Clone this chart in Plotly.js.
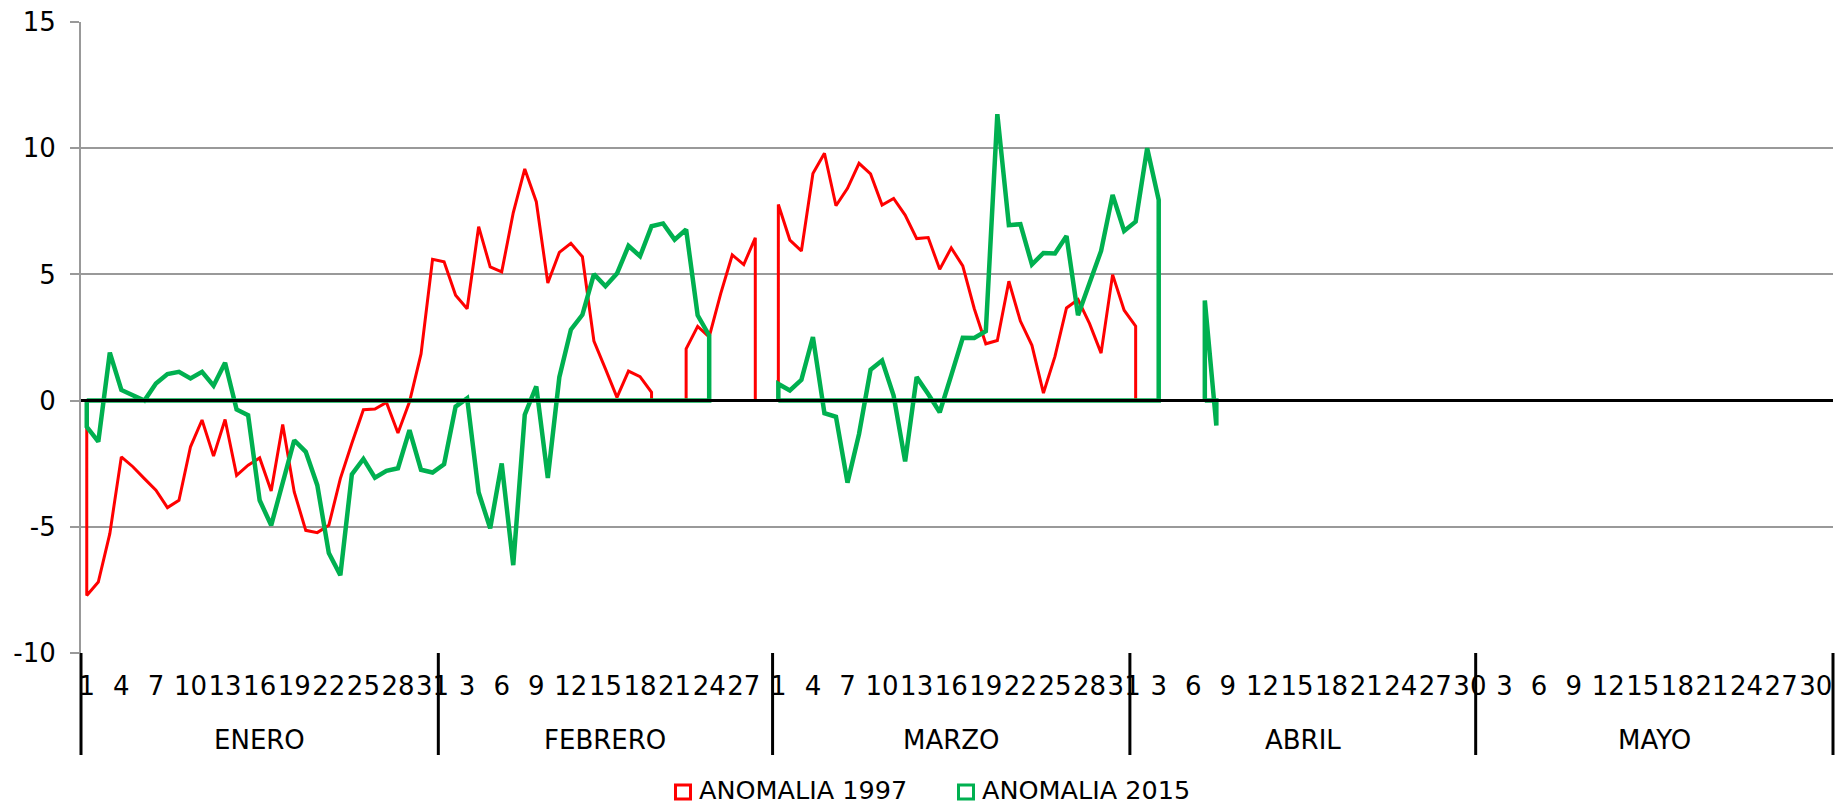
<!DOCTYPE html>
<html>
<head>
<meta charset="utf-8">
<script src="https://cdn.plot.ly/plotly-3.0.1.min.js"></script>
<style>
  html, body { margin: 0; padding: 0; background: #ffffff; }
  #chart { width: 1836px; height: 806px; }
</style>
</head>
<body>
<div id="chart"></div>
<script>
// ---- categories ----
const months = ['ENERO', 'FEBRERO', 'MARZO', 'ABRIL', 'MAYO'];
const monthDays = [31, 29, 31, 30, 31];
const labelStep = 3;
const yTicks = [-10, -5, 0, 5, 10, 15];
const seriesNames = ['ANOMALIA 1997', 'ANOMALIA 2015'];

// ---- ANOMALIA 1997 (one value per day, null = no data) ----
const a1997_enero = [-7.72, -7.19, -5.27, -2.23, -2.62, -3.09, -3.55, -4.24, -3.95, -1.83,
  -0.77, -2.20, -0.75, -2.96, -2.56, -2.27, -3.58, -0.95, -3.62, -5.14,
  -5.23, -4.94, -3.09, -1.69, -0.36, -0.33, -0.07, -1.28, -0.05, 1.85, 5.60];
const a1997_febrero = [5.50, 4.17, 3.64, 6.89, 5.30, 5.10, 7.44, 9.18, 7.88, 4.66,
  5.87, 6.23, 5.70, 2.36, 1.26, 0.13, 1.17, 0.95, 0.33, null,
  null, 2.05, 2.94, 2.52, 4.24, 5.77, 5.39, 6.45, null];
const a1997_marzo = [7.77, 6.36, 5.93, 9.00, 9.80, 7.72, 8.41, 9.40, 8.98, 7.75,
  8.01, 7.35, 6.42, 6.46, 5.20, 6.05, 5.34, 3.64, 2.25, 2.38,
  4.73, 3.15, 2.19, 0.30, 1.75, 3.67, 4.00, 3.05, 1.88, 4.99, 3.58];
const a1997_abril = [2.95, null, null, null, null, null, null, null, null, null,
  null, null, null, null, null, null, null, null, null, null,
  null, null, null, null, null, null, null, null, null, null];
const a1997_mayo = [null, null, null, null, null, null, null, null, null, null,
  null, null, null, null, null, null, null, null, null, null,
  null, null, null, null, null, null, null, null, null, null, null];

// ---- ANOMALIA 2015 ----
const a2015_enero = [-1.04, -1.63, 1.90, 0.42, 0.22, 0.00, 0.68, 1.05, 1.14, 0.88,
  1.14, 0.59, 1.50, -0.35, -0.58, -3.95, -4.94, -3.26, -1.57, -2.03,
  -3.35, -6.04, -6.92, -2.92, -2.31, -3.05, -2.78, -2.68, -1.17, -2.74, -2.85];
const a2015_febrero = [-2.52, -0.24, 0.09, -3.64, -5.06, -2.49, -6.52, -0.56, 0.56, -3.07,
  0.93, 2.81, 3.40, 5.01, 4.53, 5.03, 6.13, 5.72, 6.91, 7.02,
  6.38, 6.78, 3.38, 2.58, null, null, null, null, null];
const a2015_marzo = [0.66, 0.40, 0.82, 2.52, -0.50, -0.64, -3.25, -1.32, 1.22, 1.59,
  0.20, -2.41, 0.93, 0.26, -0.46, 1.00, 2.49, 2.48, 2.75, 11.35,
  6.95, 6.99, 5.39, 5.85, 5.83, 6.52, 3.38, 4.66, 5.93, 8.15, 6.72];
const a2015_abril = [7.09, 10.00, 7.95, null, null, null, 3.97, -0.99, null, null,
  null, null, null, null, null, null, null, null, null, null,
  null, null, null, null, null, null, null, null, null, null];
const a2015_mayo = [null, null, null, null, null, null, null, null, null, null,
  null, null, null, null, null, null, null, null, null, null,
  null, null, null, null, null, null, null, null, null, null, null];

const anomalia1997 = [].concat(a1997_enero, a1997_febrero, a1997_marzo, a1997_abril, a1997_mayo);
const anomalia2015 = [].concat(a2015_enero, a2015_febrero, a2015_marzo, a2015_abril, a2015_mayo);

// ---- category axis helpers ----
const nCat = monthDays.reduce((a, b) => a + b, 0);
const tickVals = [], tickText = [];
const monthStart = [];
{
  let idx = 0;
  monthDays.forEach((nd) => {
    monthStart.push(idx);
    for (let d = 1; d <= nd; d++) {
      if (idx % labelStep === 0) { tickVals.push(idx); tickText.push(String(d)); }
      idx++;
    }
  });
}

// Each run of data is drawn as an outline closed on the zero baseline
function outline(vals) {
  const xs = [], ys = [];
  let i = 0;
  while (i < vals.length) {
    if (vals[i] === null) { i++; continue; }
    const s = i;
    while (i < vals.length && vals[i] !== null) i++;
    const e = i - 1;
    xs.push(s); ys.push(0);
    for (let k = s; k <= e; k++) { xs.push(k); ys.push(vals[k]); }
    xs.push(e, s, null); ys.push(0, 0, null);
  }
  return { xs, ys };
}

const RED = '#FF0000', GREEN = '#00B050';
const FONT = 'DejaVu Sans, Verdana, sans-serif';
const o97 = outline(anomalia1997);
const o15 = outline(anomalia2015);

const traces = [
  { x: o97.xs, y: o97.ys, type: 'scatter', mode: 'lines', name: seriesNames[0],
    line: { color: RED, width: 3 }, showlegend: false, connectgaps: false },
  { x: o15.xs, y: o15.ys, type: 'scatter', mode: 'lines', name: seriesNames[1],
    line: { color: GREEN, width: 4.5 }, showlegend: false, connectgaps: false }
];

// ---- layout geometry (pixels) ----
const W = 1836, H = 806, ML = 81, MR = 3, MT = 22, MB = 153;
const PW = W - ML - MR, PH = H - MT - MB;
const px2x = (p) => (p - ML) / PW;
const px2y = (p) => (H - MB - p) / PH;

const shapes = [
  { type: 'line', xref: 'paper', x0: 0, x1: 1, yref: 'y', y0: 0, y1: 0,
    line: { color: '#000000', width: 3 }, layer: 'above' }
];
monthStart.concat([nCat]).forEach((b) => {
  const px = b / nCat;
  shapes.push({ type: 'line', xref: 'paper', x0: px, x1: px, yref: 'paper', y0: 0, y1: px2y(755),
    line: { color: '#000000', width: 3 }, layer: 'above' });
});

const annotations = months.map((m, k) => ({
  xref: 'x', x: monthStart[k] - 0.5 + monthDays[k] / 2,
  yref: 'paper', y: px2y(740), yanchor: 'middle', xanchor: 'center',
  text: m, showarrow: false, font: { family: FONT, size: 26, color: '#000' }
}));

// ---- legend (hollow squares + names) ----
const legendItems = [
  { name: seriesNames[0], color: RED, left: 674 },
  { name: seriesNames[1], color: GREEN, left: 957 }
];
legendItems.forEach((it) => {
  shapes.push({ type: 'rect', xref: 'paper', yref: 'paper',
    x0: px2x(it.left + 1.5), x1: px2x(it.left + 16.5), y0: px2y(799), y1: px2y(785),
    line: { color: it.color, width: 3 }, fillcolor: 'rgba(0,0,0,0)' });
  annotations.push({ xref: 'paper', x: px2x(it.left + 23), xanchor: 'left',
    yref: 'paper', y: px2y(790), yanchor: 'middle',
    text: it.name, showarrow: false, font: { family: FONT, size: 25.5, color: '#000' } });
});

const layout = {
  width: W, height: H,
  margin: { l: ML, r: MR, t: MT, b: MB, pad: 0, autoexpand: false },
  paper_bgcolor: '#ffffff', plot_bgcolor: '#ffffff',
  font: { family: FONT, size: 26, color: '#000000' },
  showlegend: false,
  xaxis: {
    range: [-0.5, nCat - 0.5], tickmode: 'array', tickvals: tickVals, ticktext: tickText,
    tickangle: 0, ticks: '', showgrid: false, zeroline: false, showline: false,
    tickfont: { family: FONT, size: 26, color: '#000' }, ticklabelstandoff: 15
  },
  yaxis: {
    range: [-10, 15], tickmode: 'array', tickvals: yTicks, ticktext: yTicks.map(String),
    ticks: 'outside', ticklen: 9, tickwidth: 2, tickcolor: '#999999',
    showgrid: true, gridcolor: '#999999', gridwidth: 2,
    showline: true, linecolor: '#999999', linewidth: 2, zeroline: false,
    tickfont: { family: FONT, size: 26, color: '#000' }, ticklabelstandoff: 9
  },
  shapes: shapes,
  annotations: annotations,
  hovermode: false
};

Plotly.newPlot('chart', traces, layout, { staticPlot: true, displayModeBar: false });
</script>
</body>
</html>
